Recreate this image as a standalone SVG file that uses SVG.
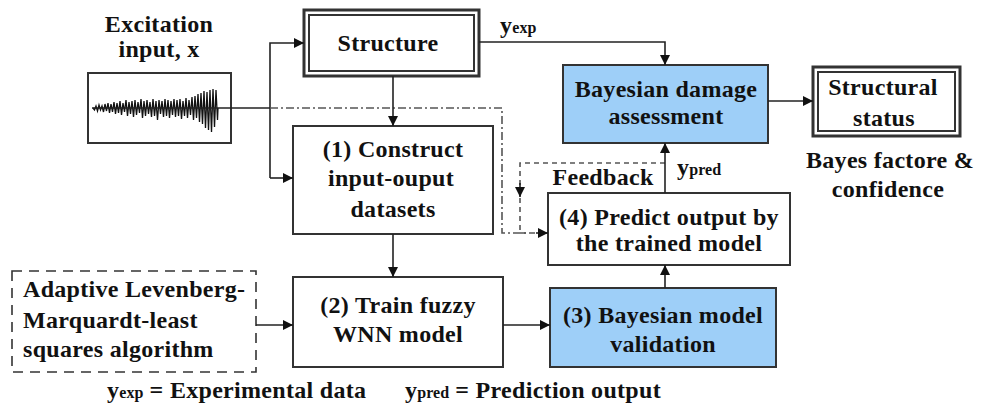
<svg xmlns="http://www.w3.org/2000/svg" width="985" height="407" viewBox="0 0 985 407">
<defs>
<marker id="arr" viewBox="0 0 10 10" refX="10" refY="5" markerWidth="10" markerHeight="10" markerUnits="userSpaceOnUse" orient="auto">
<path d="M0,0 L10,5 L0,10 z" fill="#111"/>
</marker>
<style>
text{font-family:'Liberation Serif','DejaVu Serif','Times New Roman',serif;font-weight:bold;fill:#111;font-size:24px;letter-spacing:0.3px}
.c{text-anchor:middle}
.sub{font-size:16px;letter-spacing:0}
.box{fill:#fff;stroke:#333;stroke-width:2}
.blue{fill:#9ECFF8;stroke:#333;stroke-width:2}
.ln{fill:none;stroke:#222;stroke-width:1.6}
.dd{fill:none;stroke:#555;stroke-width:1.6;stroke-dasharray:8 3 2 3}
.fb{fill:none;stroke:#555;stroke-width:1.6;stroke-dasharray:5 4}
</style>
</defs>

<g id="excitation">
<text class="c" x="159" y="32">Excitation</text>
<text class="c" x="159" y="57">input, x</text>
<rect x="88" y="73" width="143" height="70" fill="#fff" stroke="#333" stroke-width="2"/>
<polyline fill="none" stroke="#111" stroke-width="1.3" points="93,108 94.5,110 96,106 97.5,111 99,105 100.5,110 102,106 103.5,112 105,104 106.5,111 108,103 109.5,113 111,104 112.5,112 114,102 115.5,114 117,103 118.5,113 120,101 121.5,115 123,103 124.5,112 126,100 127.5,116 129,102 130.5,114 132,101 133.5,117 135,100 136.5,115 138,102 139.5,113 141,99 142.5,118 144,101 145.5,116 147,100 148.5,114 150,102 151.5,117 153,99 154.5,116 156,101 157.5,120 159,100 160.5,114 162,101 163.5,117 165,99 166.5,116 168,100 169.5,118 171,101 172.5,115 174,99 175.5,117 177,100 178.5,116 180,99 181.5,119 183,101 184.5,116 186,98 187.5,118 189,100 190.5,115 192,97 193.5,120 195,96 196.5,118 198,94 199.5,122 201,93 202.5,124 204,91 205.5,128 207,92 208.5,130 210,90 211.5,132 213,89 214.5,127 216,90 217.5,120 218,108"/>
</g>

<g id="structure">
<rect x="304" y="10" width="175" height="66" fill="#fff" stroke="#333" stroke-width="3"/>
<rect x="309" y="15" width="165" height="56" fill="none" stroke="#333" stroke-width="2"/>
<text class="c" x="388" y="51">Structure</text>
</g>

<g id="bda">
<rect class="blue" x="563" y="65" width="205" height="78"/>
<text class="c" x="666" y="97">Bayesian damage</text>
<text class="c" x="666" y="124">assessment</text>
</g>

<g id="status">
<rect x="813" y="67" width="147" height="69" fill="#fff" stroke="#333" stroke-width="3"/>
<rect x="818" y="72" width="137" height="59" fill="none" stroke="#333" stroke-width="2"/>
<text class="c" x="883" y="95">Structural</text>
<text class="c" x="884" y="126">status</text>
<text class="c" x="890" y="168">Bayes factore &amp;</text>
<text class="c" x="888" y="197">confidence</text>
</g>

<g id="box1">
<rect class="box" x="293" y="126" width="200" height="108"/>
<text class="c" x="393" y="157">(1) Construct</text>
<text class="c" x="391" y="186">input-ouput</text>
<text class="c" x="393" y="217">datasets</text>
</g>

<g id="box4">
<rect class="box" x="548" y="193" width="242" height="72"/>
<text class="c" x="669" y="225">(4) Predict output by</text>
<text class="c" x="669" y="251">the trained model</text>
</g>

<g id="box2">
<rect class="box" x="293" y="277" width="210" height="90"/>
<text class="c" x="398" y="313">(2) Train fuzzy</text>
<text class="c" x="398" y="342">WNN model</text>
</g>

<g id="box3">
<rect class="blue" x="550" y="288" width="226" height="79"/>
<text class="c" x="663" y="323">(3) Bayesian model</text>
<text class="c" x="663" y="352">validation</text>
</g>

<g id="algorithm">
<rect x="12" y="271" width="244" height="101" fill="#fff" stroke="#333" stroke-width="1.6" stroke-dasharray="10 7"/>
<text x="23" y="297">Adaptive Levenberg-</text>
<text x="23" y="328">Marquardt-least</text>
<text x="23" y="357">squares algorithm</text>
</g>

<g id="labels">
<text x="500" y="33">y<tspan class="sub">exp</tspan></text>
<text x="677" y="175">y<tspan class="sub">pred</tspan></text>
<text class="c" x="603" y="185">Feedback</text>
<text x="107" y="398">y<tspan class="sub">exp</tspan> = Experimental data</text>
<text x="405" y="398">y<tspan class="sub">pred</tspan> = Prediction output</text>
</g>

<g id="connectors">
<path class="ln" d="M92,108 L270,108"/>
<path class="ln" d="M270,178 L270,43 L304,43" marker-end="url(#arr)"/>
<path class="ln" d="M270,178 L293,178" marker-end="url(#arr)"/>
<path class="dd" d="M270,108 L502,108 L502,233 L530,233"/>
<path class="fb" d="M665,163 L520,163 L520,233 L538,233"/>
<path class="ln" d="M520,183 L520,197" marker-end="url(#arr)"/>
<path class="ln" d="M536,233 L548,233" marker-end="url(#arr)"/>
<path class="ln" d="M393,76 L393,126" marker-end="url(#arr)"/>
<path class="ln" d="M479,42 L665,42 L665,65" marker-end="url(#arr)"/>
<path class="ln" d="M768,101 L813,101" marker-end="url(#arr)"/>
<path class="ln" d="M665,193 L665,143" marker-end="url(#arr)"/>
<path class="ln" d="M393,234 L393,277" marker-end="url(#arr)"/>
<path class="ln" d="M256,325 L293,325" marker-end="url(#arr)"/>
<path class="ln" d="M503,325 L550,325" marker-end="url(#arr)"/>
<path class="ln" d="M665,288 L665,265" marker-end="url(#arr)"/>
</g>
</svg>
